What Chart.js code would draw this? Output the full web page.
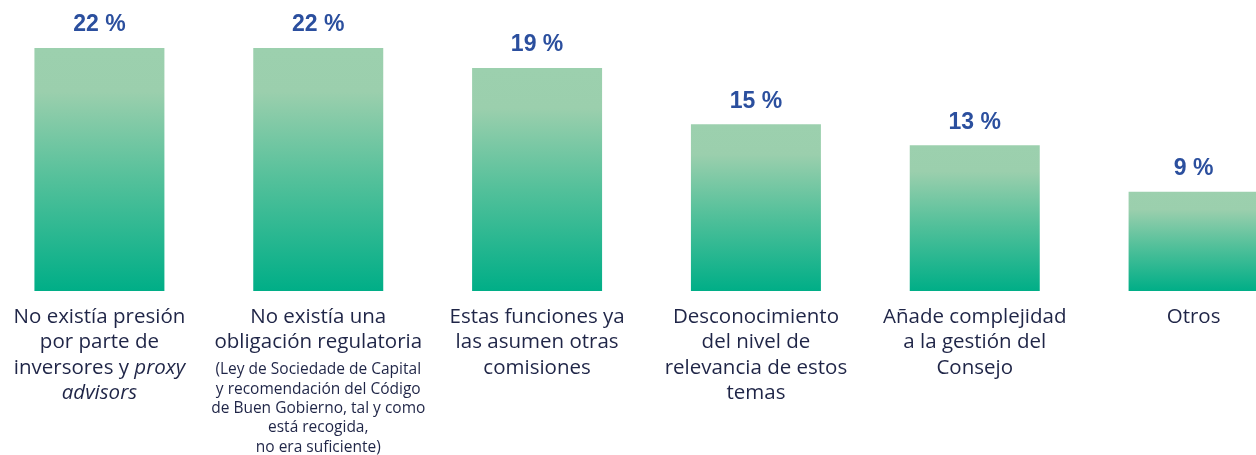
<html lang="es">
<head>
    <meta charset="UTF-8">
    <title>Motivos</title>
    <script src="https://cdn.jsdelivr.net/npm/chart.js"></script>
    <style>
        body { margin: 0; background: #fff; }
        #wrap { position: relative; width: 1256px; height: 455px; overflow: hidden; }
        #chart { position: absolute; left: -10px; top: 0; }
    </style>
</head>
<body>
    <div id="wrap">
        <canvas id="chart" width="1313" height="455"></canvas>
    </div>

    <script>
        // category labels, one array of lines each; *text* = italic
        const categories = [
            ['No existía presión', 'por parte de', 'inversores y *proxy*', '*advisors*'],
            ['No existía una', 'obligación regulatoria'],
            ['Estas funciones ya', 'las asumen otras', 'comisiones'],
            ['Desconocimiento', 'del nivel de', 'relevancia de estos', 'temas'],
            ['Añade complejidad', 'a la gestión del', 'Consejo'],
            ['Otros']
        ];
        // small print under a category
        const notes = [
            [],
            ['(Ley de Sociedade de Capital', 'y recomendación del Código', 'de Buen Gobierno, tal y como', 'está recogida,', 'no era suficiente)'],
            [], [], [], []
        ];
        // bar heights as drawn, and the labels printed above them
        const values = [22, 22, 20.2, 15.1, 13.2, 9];
        const valueLabels = ['22 %', '22 %', '19 %', '15 %', '13 %', '9 %'];

        const ctx = document.getElementById('chart').getContext('2d');

        function barGradient(context) {
            const chart = context.chart;
            if (!chart.chartArea) return '#9dd0ae';
            const y = chart.scales.y;
            const top = y.getPixelForValue(values[context.dataIndex]);
            const bottom = y.getPixelForValue(0);
            const g = chart.ctx.createLinearGradient(0, top, 0, bottom);
            g.addColorStop(0, '#9cd0ae');
            g.addColorStop(0.18, '#9bcfad');
            g.addColorStop(0.55, '#52c09a');
            g.addColorStop(1, '#00ae87');
            return g;
        }

        function drawRichLine(c, line, x, y, size) {
            const parts = line.split('*');
            const fonts = parts.map((p, i) => (i % 2 ? 'italic ' : '') + size + 'px "Open Sans"');
            let total = 0;
            parts.forEach((p, i) => { c.font = fonts[i]; total += c.measureText(p).width; });
            let cx = x - total / 2;
            c.textAlign = 'left';
            parts.forEach((p, i) => {
                c.font = fonts[i];
                c.fillText(p, cx, y);
                cx += c.measureText(p).width;
            });
        }

        const labelPlugin = {
            id: 'labels',
            afterDatasetsDraw(chart) {
                const c = chart.ctx;
                const meta = chart.getDatasetMeta(0);
                const base = chart.scales.y.getPixelForValue(0);
                c.save();
                c.textBaseline = 'middle';
                meta.data.forEach((bar, i) => {
                    c.fillStyle = '#2b4f9e';
                    c.font = 'bold 23px "Liberation Sans"';
                    c.textAlign = 'center';
                    c.fillText(valueLabels[i], bar.x, bar.y - 23);

                    c.fillStyle = '#1f2547';
                    let y = base + 26;
                    categories[i].forEach(line => {
                        drawRichLine(c, line, bar.x, y, 20.5);
                        y += 25.5;
                    });
                    y += 2;
                    notes[i].forEach(line => {
                        drawRichLine(c, line, bar.x, y, 15.5);
                        y += 19.3;
                    });
                });
                c.restore();
            }
        };

        new Chart(ctx, {
            type: 'bar',
            data: {
                labels: categories.map(l => l.join(' ')),
                datasets: [{
                    data: values,
                    backgroundColor: barGradient,
                    borderWidth: 0,
                    categoryPercentage: 1,
                    barPercentage: 0.594
                }]
            },
            options: {
                responsive: false,
                animation: false,
                layout: { padding: { top: 15, bottom: 164, left: 0, right: 0 } },
                scales: {
                    x: { display: false },
                    y: { display: false, min: 0, max: 25 }
                },
                plugins: {
                    legend: { display: false },
                    tooltip: { enabled: false }
                }
            },
            plugins: [labelPlugin]
        });
    </script>
</body>
</html>
